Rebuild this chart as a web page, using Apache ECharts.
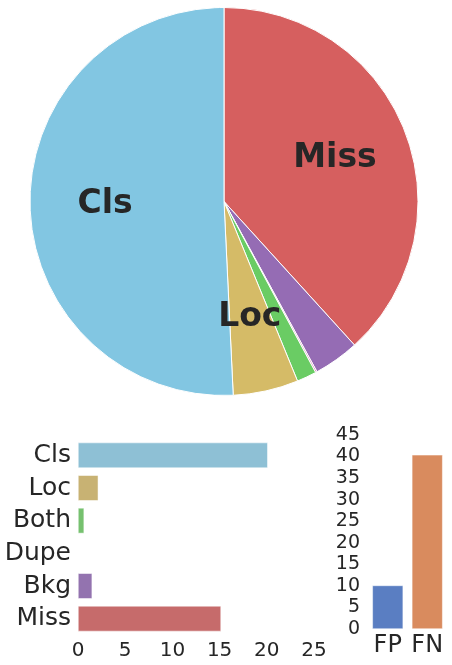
<!DOCTYPE html>
<html>
<head>
<meta charset="utf-8">
<script src="https://cdn.jsdelivr.net/npm/echarts@6/dist/echarts.min.js"></script>
<style>html,body{margin:0;padding:0;background:#fff}#c{width:452px;height:665px}</style>
</head>
<body>
<div id="c"></div>
<script>
// Data
const errorTypes = ['Cls', 'Loc', 'Both', 'Dupe', 'Bkg', 'Miss'];
const errorValues = [20.1, 2.15, 0.65, 0.05, 1.5, 15.15];
const pieColors = ['#82c6e2', '#d5bb67', '#6acc64', '#dc7ec0', '#956cb4', '#d65f5f'];
const barColors = ['#8ec0d5', '#c8b273', '#76c16f', '#c98bb7', '#9373af', '#c66b6b'];
const pieLabels = ['Cls', 'Loc', 'Miss'];
const fpfnCats = ['FP', 'FN'];
const fpfnValues = [10.1, 40.4];
const fpfnColors = ['#5a7ec2', '#d98b5e'];
const xTicks = [0, 5, 10, 15, 20, 25];
const yTicks = [0, 5, 10, 15, 20, 25, 30, 35, 40, 45];

const font = 'DejaVu Sans';
const textColor = '#262626';

// pie order clockwise from top: Miss, Bkg, Dupe, Both, Loc, Cls
const pieOrder = [5, 4, 3, 2, 1, 0];
const pieData = pieOrder.map(i => ({
  name: errorTypes[i], value: errorValues[i],
  itemStyle: { color: pieColors[i] }
}));
const labelData = pieOrder.map(i => ({
  name: errorTypes[i], value: errorValues[i],
  label: { show: pieLabels.includes(errorTypes[i]) }
}));

const chart = echarts.init(document.getElementById('c'));
chart.setOption({
  backgroundColor: '#fff',
  animation: false,
  grid: [
    { left: 78, top: 439, width: 236, height: 196 },
    { left: 368, top: 435, width: 79, height: 194 }
  ],
  xAxis: [
    {
      gridIndex: 0, type: 'value', min: xTicks[0], max: xTicks[xTicks.length - 1], interval: 5,
      axisLine: { show: false }, axisTick: { show: false }, splitLine: { show: false },
      axisLabel: { fontFamily: font, fontSize: 20, color: textColor, margin: 6 }
    },
    {
      gridIndex: 1, type: 'category', data: fpfnCats,
      axisLine: { show: false }, axisTick: { show: false },
      axisLabel: { interval: 0, fontFamily: font, fontSize: 24, color: textColor, margin: 5 }
    }
  ],
  yAxis: [
    {
      gridIndex: 0, type: 'category', data: errorTypes, inverse: true,
      axisLine: { show: false }, axisTick: { show: false },
      axisLabel: { interval: 0, fontFamily: font, fontSize: 25, color: textColor, margin: 7 }
    },
    {
      gridIndex: 1, type: 'value', min: yTicks[0], max: yTicks[yTicks.length - 1], interval: 5,
      axisLine: { show: false }, axisTick: { show: false }, splitLine: { show: false },
      axisLabel: { fontFamily: font, fontSize: 19, color: textColor, margin: 8 }
    }
  ],
  series: [
    {
      type: 'pie', center: [224, 201.5], radius: [0, 194], startAngle: 90, clockwise: true,
      data: pieData, label: { show: false }, labelLine: { show: false },
      itemStyle: { borderColor: '#fff', borderWidth: 1 }, silent: true, z: 1
    },
    {
      type: 'pie', center: [224, 201.5], radius: [38, 194], startAngle: 90, clockwise: true,
      data: labelData, silent: true, z: 2,
      itemStyle: { color: 'rgba(0,0,0,0)' },
      labelLine: { show: false },
      label: {
        position: 'inside', formatter: '{b}', fontFamily: font, fontWeight: 'bold',
        fontSize: 33, color: textColor
      }
    },
    {
      type: 'bar', xAxisIndex: 0, yAxisIndex: 0, barCategoryGap: '22%',
      data: errorValues.map((v, i) => ({ value: v, itemStyle: { color: barColors[i] } })),
      itemStyle: { borderColor: '#fff', borderWidth: 0.5 }
    },
    {
      type: 'bar', xAxisIndex: 1, yAxisIndex: 1, barCategoryGap: '22%',
      data: fpfnValues.map((v, i) => ({ value: v, itemStyle: { color: fpfnColors[i] } })),
      itemStyle: { borderColor: '#fff', borderWidth: 0.5 }
    }
  ]
});
</script>
</body>
</html>
